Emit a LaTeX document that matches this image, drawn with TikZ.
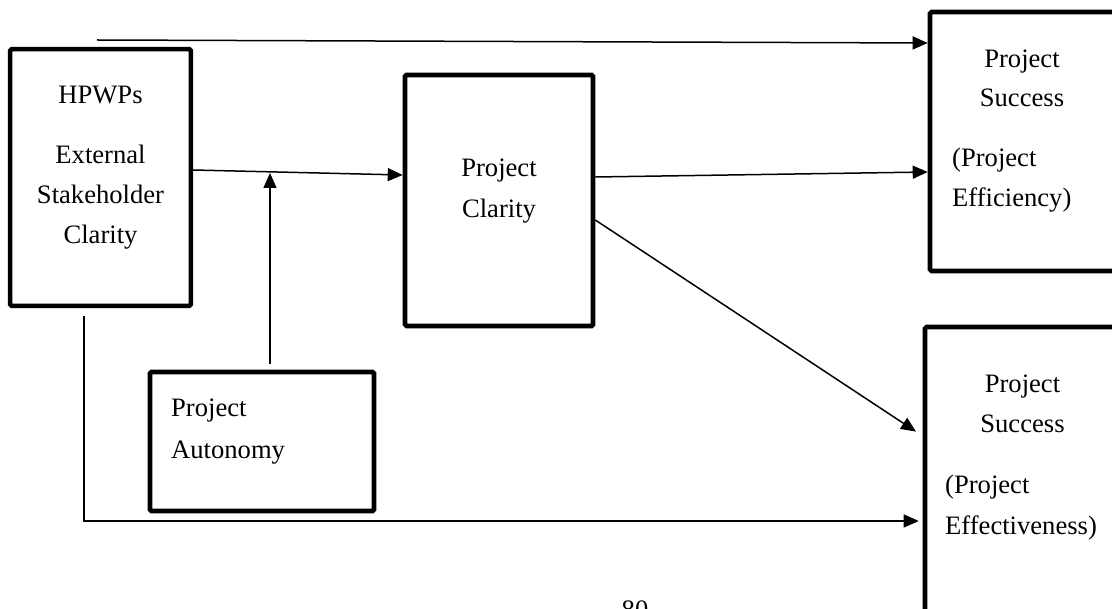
\documentclass[tikz,border=0pt]{standalone}
\usepackage{fontspec}
\setmainfont{Liberation Serif}
\usetikzlibrary{arrows.meta}
\begin{document}
\begin{tikzpicture}[x=1pt,y=-1pt,
  box/.style={draw, line width=4.6pt, rounded corners=1.5pt, inner sep=0pt},
  conn/.style={line width=1.5pt, -{Triangle[length=15pt,width=13pt]}},
  lbl/.style={font=\fontsize{26.6}{32}\selectfont, inner sep=0pt, anchor=base},
  lbll/.style={font=\fontsize{26.6}{32}\selectfont, inner sep=0pt, anchor=base west}]
\useasboundingbox (0,0) rectangle (1112,609);
\clip (0,0) rectangle (1112,609);
\fill[white] (0,0) rectangle (1112,609);

% boxes
\node[box, minimum width=180.7pt, minimum height=256.7pt] (b1) at (100.5,177.5) {};
\node[box, minimum width=188pt, minimum height=251pt] (b2) at (499,200.5) {};
\node[box, minimum width=200pt, minimum height=259pt] (b3) at (1030,141.5) {};
\node[box, minimum width=205pt, minimum height=323pt] (b4) at (1027.5,488.5) {};
\node[box, minimum width=224pt, minimum height=139pt] (aut) at (262,441.5) {};

% texts
\node[lbl] (t1a) at (100.5,104) {HPWPs};
\node[lbl] (t1b) at (100.5,164) {External};
\node[lbl] (t1c) at (100.5,204) {Stakeholder};
\node[lbl] (t1d) at (100.5,244) {Clarity};

\node[lbl] (t2a) at (499,177) {Project};
\node[lbl] (t2b) at (499,218) {Clarity};

\node[lbl] (t3a) at (1022,68) {Project};
\node[lbl] (t3b) at (1022,107) {Success};
\node[lbll] (t3c) at (952,167) {(Project};
\node[lbll] (t3d) at (952,207) {Efficiency)};

\node[lbl] (t4a) at (1022.5,393) {Project};
\node[lbl] (t4b) at (1022.5,433) {Success};
\node[lbll] (t4c) at (945,494) {(Project};
\node[lbll] (t4d) at (945,535) {Effectiveness)};

\node[lbll] (t5a) at (171,417) {Project};
\node[lbll] (t5b) at (171,459) {Autonomy};

\node[lbl] (pg) at (635,618) {80};

% connectors
\coordinate (top0) at (97,40);
\draw[conn] (top0) -- (b3.west |- 0,43);

\draw[conn] (b1.east |- 0,170) -- (b2.west |- 0,175);

\coordinate (mod) at (270,173);
\draw[conn, shorten <=6pt] (mod |- aut.north) -- (mod);

\draw[conn] (b2.east |- 0,177) -- (b3.west |- 0,172);

\draw[conn, shorten >=8pt] (b2.east |- 0,220) -- (b4.west |- 0,436);

\coordinate (left0) at (84,316);
\draw[conn, shorten >=4pt] (left0) |- (b4.west |- 0,521);
\end{tikzpicture}
\end{document}
